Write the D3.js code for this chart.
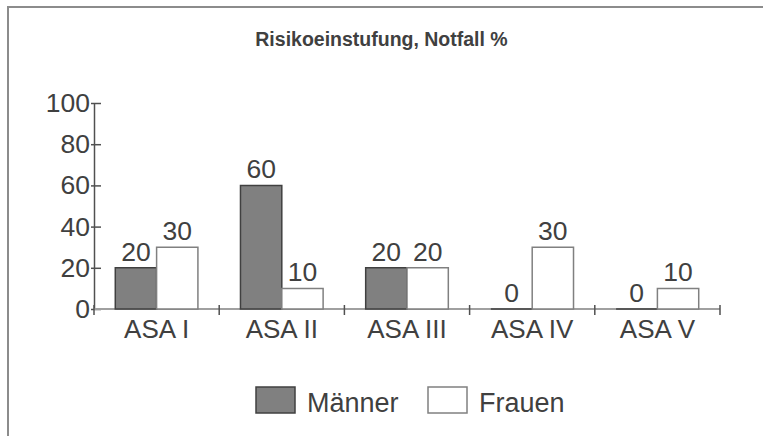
<!DOCTYPE html>
<html>
<head>
<meta charset="utf-8">
<script src="https://cdn.jsdelivr.net/npm/d3@7"></script>
<style>
    body { margin: 0; background: #fff; overflow: hidden; }
    svg { display: block; }
    text { font-family: Arial, "Liberation Sans", sans-serif; fill: #404040; }
</style>
</head>
<body>
<div id="chart"></div>
<script>
    var categories = ['ASA I', 'ASA II', 'ASA III', 'ASA IV', 'ASA V'];
    var seriesNames = ['Männer', 'Frauen'];
    var maenner = [20, 60, 20, 0, 0];
    var frauen = [30, 10, 20, 30, 10];
    var yTicks = [0, 20, 40, 60, 80, 100];

    var title = 'Risikoeinstufung, Notfall %';

    var width = 763, height = 436;
    var margin = { top: 103, right: 43, bottom: 127, left: 94 };

    var seriesValues = [maenner, frauen];
    var fills = ['#808080', '#ffffff'];
    var strokes = ['#404040', '#808080'];

    var svg = d3.select('#chart').append('svg')
        .attr('width', width)
        .attr('height', height);

    //outer frame (right and bottom run off the picture)
    svg.append('path')
        .attr('d', 'M8,' + height + 'V7H' + width)
        .attr('fill', 'none')
        .attr('stroke', '#8c8c8c')
        .attr('stroke-width', 2);

    svg.append('text')
        .attr('x', 381.5)
        .attr('y', 46)
        .attr('text-anchor', 'middle')
        .style('font-size', '19.5px')
        .style('font-weight', 'bold')
        .text(title);

    var x0 = margin.left, x1 = width - margin.right;
    var yTop = margin.top, yBottom = height - margin.bottom;

    var y = d3.scaleLinear().domain([0, 100]).range([yBottom, yTop]);

    var xCat = d3.scaleBand().domain(categories).range([x0, x1]).padding(0);
    var xGroup = d3.scaleBand().domain(categories).range([x0, x1])
        .paddingInner(0.34).paddingOuter(0.17);
    var xSeries = d3.scaleBand().domain(seriesNames).range([0, xGroup.bandwidth()]);

    //y axis
    var axisY = svg.append('g')
        .attr('transform', 'translate(' + x0 + ',0)')
        .call(d3.axisLeft(y).tickValues(yTicks).tickSize(0).tickPadding(4));
    axisY.select('.domain').attr('stroke', '#505050').attr('stroke-width', 1.5);
    axisY.selectAll('.tick text').style('font-size', '26.5px').attr('fill', '#404040').attr('font-family', null);
    axisY.selectAll('.tick').append('line')
        .attr('x1', -3).attr('x2', 7)
        .attr('stroke', '#505050').attr('stroke-width', 1.5);

    var rows = categories.map(function (c, i) {
        return seriesNames.map(function (s, k) {
            return { cat: c, series: s, k: k, value: seriesValues[k][i] };
        });
    });

    //x axis line
    svg.append('line')
        .attr('x1', x0).attr('x2', x1)
        .attr('y1', yBottom).attr('y2', yBottom)
        .attr('stroke', '#a0a0a0').attr('stroke-width', 2);

    var groups = svg.append('g').selectAll('g')
        .data(rows)
        .enter().append('g')
        .attr('transform', function (d) { return 'translate(' + xGroup(d[0].cat) + ',0)'; });

    //bars as paths so that a zero value still shows its outline
    groups.selectAll('path')
        .data(function (d) { return d; })
        .enter().append('path')
        .attr('d', function (d) {
            var bx = xSeries(d.series), bw = xSeries.bandwidth();
            return 'M' + bx + ',' + yBottom + 'V' + y(d.value) + 'h' + bw + 'V' + yBottom + 'Z';
        })
        .attr('fill', function (d) { return fills[d.k]; })
        .attr('stroke', function (d) { return strokes[d.k]; })
        .attr('stroke-width', 1.5);

    groups.selectAll('text')
        .data(function (d) { return d; })
        .enter().append('text')
        .attr('x', function (d) { return xSeries(d.series) + xSeries.bandwidth() / 2; })
        .attr('y', function (d) { return y(d.value) - 7; })
        .attr('text-anchor', 'middle')
        .style('font-size', '26.5px')
        .text(function (d) { return d.value; });

    //category boundary ticks
    var bounds = categories.map(function (c) { return xCat(c); }).concat([x1]);
    svg.append('g').selectAll('line')
        .data(bounds)
        .enter().append('line')
        .attr('x1', function (d) { return d; })
        .attr('x2', function (d) { return d; })
        .attr('y1', yBottom - 4)
        .attr('y2', yBottom + 6)
        .attr('stroke', '#505050').attr('stroke-width', 1.5);

    svg.append('g').selectAll('text')
        .data(categories)
        .enter().append('text')
        .attr('x', function (d) { return xCat(d) + xCat.bandwidth() / 2; })
        .attr('y', yBottom + 29)
        .attr('text-anchor', 'middle')
        .style('font-size', '26px')
        .text(function (d) { return d; });

    //legend
    var legendX = [256, 428];
    var legend = svg.append('g').selectAll('g')
        .data(seriesNames)
        .enter().append('g')
        .attr('transform', function (d, i) { return 'translate(' + legendX[i] + ',387)'; });

    legend.append('rect')
        .attr('width', 39).attr('height', 26)
        .attr('fill', function (d, i) { return fills[i]; })
        .attr('stroke', function (d, i) { return strokes[i]; })
        .attr('stroke-width', 1.5);

    legend.append('text')
        .attr('x', 51)
        .attr('y', 25)
        .style('font-size', '27px')
        .text(function (d) { return d; });
</script>
</body>
</html>
